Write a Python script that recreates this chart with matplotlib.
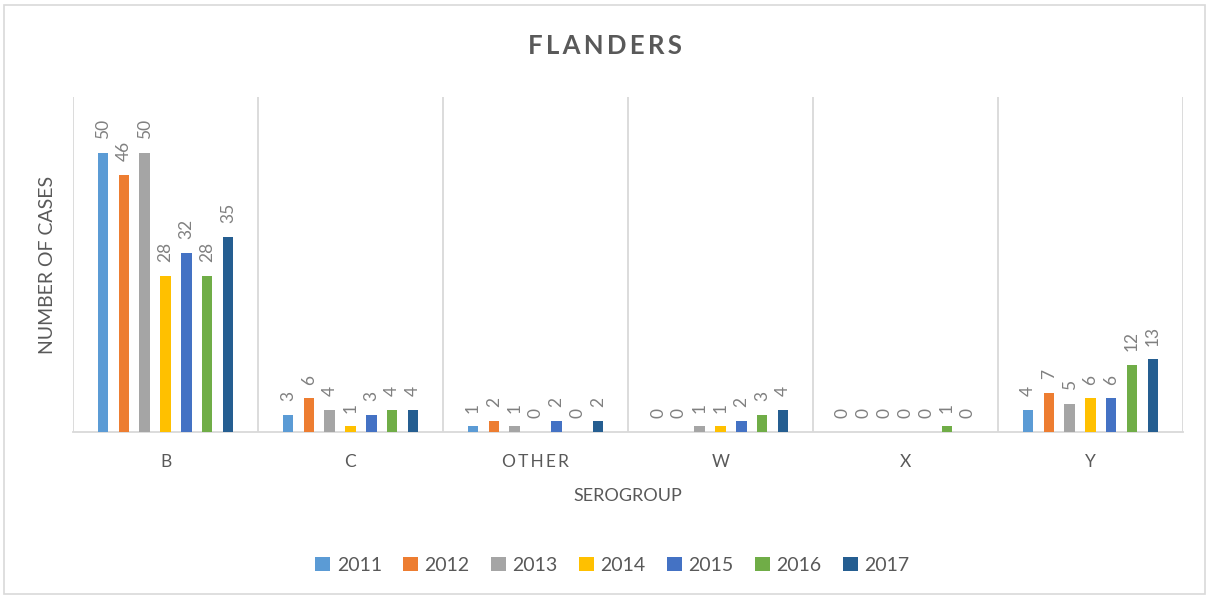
import numpy as np
import matplotlib.pyplot as plt
from matplotlib.patches import Rectangle

# Data
serogroups = ["B", "C", "O\u2009T\u2009H\u2009E\u2009R", "W", "X", "Y"]
years = ["2011", "2012", "2013", "2014", "2015", "2016", "2017"]
cases_2011 = [50, 3, 1, 0, 0, 4]
cases_2012 = [46, 6, 2, 0, 0, 7]
cases_2013 = [50, 4, 1, 1, 0, 5]
cases_2014 = [28, 1, 0, 1, 0, 6]
cases_2015 = [32, 3, 2, 2, 0, 6]
cases_2016 = [28, 4, 0, 3, 1, 12]
cases_2017 = [35, 4, 2, 4, 0, 13]
colors = ["#5B9BD5", "#ED7D31", "#A5A5A5", "#FFC000", "#4472C4", "#70AD47", "#255E91"]

series = [cases_2011, cases_2012, cases_2013, cases_2014, cases_2015, cases_2016, cases_2017]

plt.rcParams['font.family'] = ['Lato', 'DejaVu Sans']
text_gray = "#595959"
label_gray = "#808080"
line_gray = "#D9D9D9"

fig = plt.figure(figsize=(12.09, 5.98), dpi=100)
ax = fig.add_axes([0.0604, 0.2776, 0.918, 0.5602])

x = np.arange(len(serogroups))
pitch = 0.1125
width = 0.057
for i, (vals, year, col) in enumerate(zip(series, years, colors)):
    pos = x + (i - 3) * pitch
    ax.bar(pos, vals, width, color=col, label=year, zorder=3)
    for xp, v in zip(pos, vals):
        ax.annotate(str(v), (xp, v), xytext=(0, 10), textcoords="offset points",
                    rotation=90, ha="center", va="bottom", fontsize=12.5, color=label_gray)

ax.set_xlim(-0.5, len(serogroups) - 0.5)
ax.set_ylim(0, 60)
ax.set_yticks([])
ax.set_xticks(x)
ax.set_xticklabels(serogroups, fontsize=12.5, color=text_gray)
ax.tick_params(axis="x", length=0, pad=16)

for s in ["top", "right", "left"]:
    ax.spines[s].set_visible(False)
ax.spines["bottom"].set_color(line_gray)
ax.spines["bottom"].set_linewidth(1.3)
for b in np.arange(-0.5, len(serogroups), 1.0):
    ax.axvline(b, color=line_gray, linewidth=1.3, zorder=1)

ax.set_ylabel("NUMBER OF CASES", fontsize=14, color=text_gray, labelpad=12)
ax.set_xlabel("SEROGROUP", fontsize=13, color=text_gray, labelpad=13)

fig.text(0.5, 0.923, "\u2009".join("FLANDERS"), ha="center", va="center",
         fontsize=18.5, fontweight="bold", color=text_gray)

ax.legend(loc="upper center", bbox_to_anchor=(0.486, -0.32), ncol=7, frameon=False,
          fontsize=14, labelcolor=text_gray, handlelength=0.75, handleheight=0.75,
          handletextpad=0.35, columnspacing=1.1)

fig.patches.append(Rectangle((0.003, 0.006), 0.994, 0.985, transform=fig.transFigure,
                             fill=False, edgecolor=line_gray, linewidth=1.2))

fig.savefig("out.png", dpi=100)
